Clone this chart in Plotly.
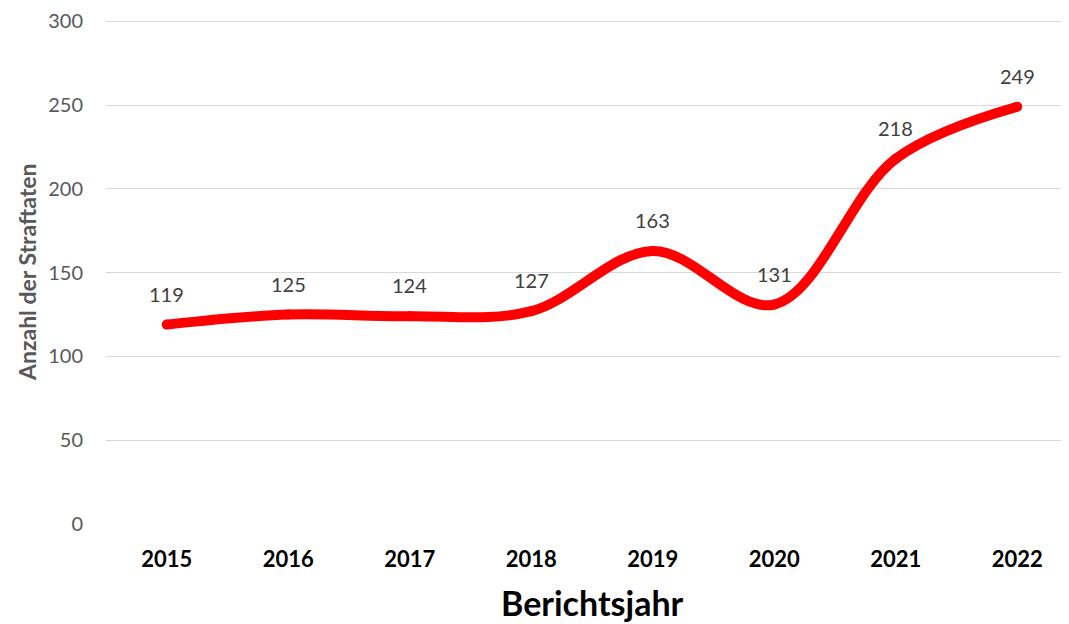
import plotly.graph_objects as go

years = [2015, 2016, 2017, 2018, 2019, 2020, 2021, 2022]
counts = [119, 125, 124, 127, 163, 131, 218, 249]
y_ticks = [0, 50, 100, 150, 200, 250, 300]
x_title = "Berichtsjahr"
y_title = "Anzahl der Straftaten"

FONT = "Lato"

fig = go.Figure()
fig.add_trace(go.Scatter(
    x=years, y=counts, mode="lines+markers",
    line=dict(color="#FF0000", width=10, shape="spline", smoothing=1),
    marker=dict(size=10, color="#FF0000"),
    hoverinfo="x+y",
))

for yr, v in zip(years, counts):
    fig.add_annotation(x=yr, y=v, text=str(v), showarrow=False, yshift=31,
                       font=dict(family=FONT, size=20, color="#404040"))

fig.add_annotation(xref="paper", yref="paper", x=0.5047, y=-0.156,
                   text=x_title, showarrow=False, xanchor="center", yanchor="middle",
                   font=dict(family=FONT, size=34, color="#000000", weight="bold"))
fig.add_annotation(xref="paper", yref="paper", x=-0.082, y=0.5,
                   text=y_title, showarrow=False, textangle=-90,
                   xanchor="center", yanchor="middle",
                   font=dict(family=FONT, size=23, color="#595959", weight="bold"))

fig.update_layout(
    width=1061, height=616,
    margin=dict(l=98, r=0, t=10, b=100),
    paper_bgcolor="white", plot_bgcolor="white",
    showlegend=False,
    font=dict(family=FONT),
    xaxis=dict(
        range=[2014.5, 2014.5 + 963 / 121.5],
        tickvals=years, ticktext=[str(y) for y in years],
        showgrid=False, zeroline=False, showline=False, ticks="",
        ticklabelstandoff=20,
        tickfont=dict(family=FONT, size=22, color="#000000", weight="bold"),
    ),
    yaxis=dict(
        range=[0, 300.8], tickvals=y_ticks,
        showgrid=True, gridcolor="#D9D9D9", gridwidth=1,
        zeroline=False, showline=False, ticks="",
        ticklabelstandoff=22, ticklabeloverflow="allow",
        tickfont=dict(family=FONT, size=20, color="#595959"),
    ),
)

fig.write_html("out.html")
